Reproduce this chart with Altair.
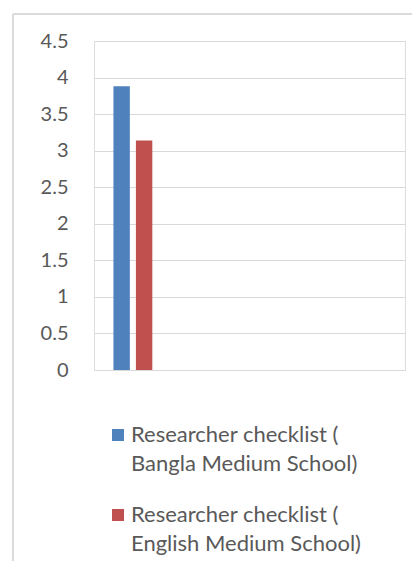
import altair as alt
import pandas as pd

# ---- data ----
slots = ["Slot 1", "Slot 2", "Slot 3", "Slot 4"]          # category positions (no axis labels shown)
series = [
    "Researcher checklist ( Bangla Medium School)",
    "Researcher checklist ( English Medium School)",
]
values = [3.88, 3.14]
colors = ["#4F81BD", "#C0504D"]
y_ticks = [0, 0.5, 1, 1.5, 2, 2.5, 3, 3.5, 4, 4.5]

df = pd.DataFrame({"slot": [slots[0]] * len(series), "series": series, "value": values})

FONT = "Lato"
GRID = "#D9D9D9"
TXT = "#595959"

bars = alt.Chart(df).mark_bar().encode(
    x=alt.X("slot:N",
            scale=alt.Scale(domain=slots, paddingInner=0.5, paddingOuter=0.25),
            axis=None),
    xOffset=alt.XOffset("series:N",
                        scale=alt.Scale(domain=series, paddingInner=0.27, paddingOuter=0)),
    y=alt.Y("value:Q",
            scale=alt.Scale(domain=[0, 4.5], nice=False),
            axis=alt.Axis(values=y_ticks, title=None, domain=False, ticks=False,
                          labelPadding=26, gridColor=GRID, labelColor=TXT,
                          labelFont=FONT, labelFontSize=20, format="~g")),
    color=alt.Color("series:N",
                    scale=alt.Scale(domain=series, range=colors),
                    legend=alt.Legend(orient="none", legendX=13, legendY=383,
                                      title=None, direction="vertical",
                                      symbolType="square", symbolSize=144,
                                      symbolStrokeWidth=0, labelFont=FONT,
                                      labelFontSize=22, labelColor=TXT,
                                      labelLimit=400, labelOffset=2,
                                      rowPadding=29,
                                      labelExpr="[substring(datum.label, 0, 22), substring(datum.label, 23)]")),
)

frame_left = alt.Chart(df).mark_rule(color=GRID, strokeWidth=1.5).encode(
    x=alt.value(-81), y=alt.value(-27), y2=alt.value(530))
frame_top = alt.Chart(df).mark_rule(color=GRID, strokeWidth=1.5).encode(
    x=alt.value(-81), x2=alt.value(330), y=alt.value(-27))

chart = alt.layer(frame_left, frame_top, bars).properties(
    width=311, height=329,
    autosize=alt.AutoSizeParams(type="none"),
    padding={"left": 86, "top": 33, "right": 7, "bottom": 191},
).configure_view(stroke=None).configure(style={"guide-label": {"lineHeight": 29}})

chart.save("out.html", embed_options={"renderer": "svg", "actions": False})
